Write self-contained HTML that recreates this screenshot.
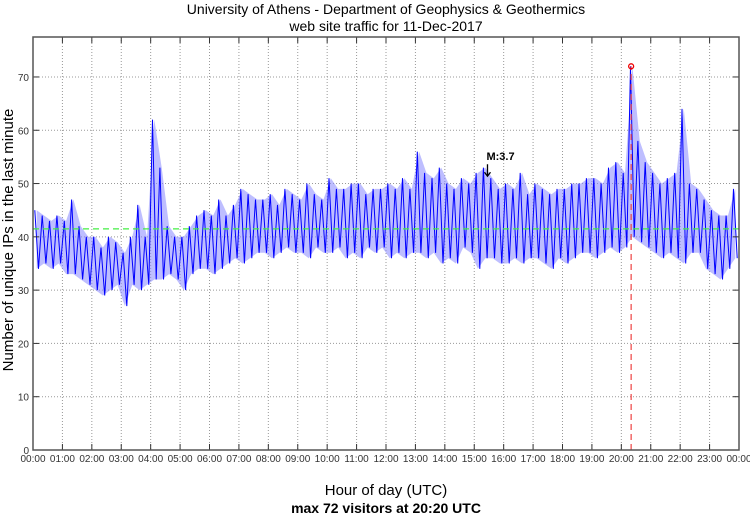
<!DOCTYPE html>
<html><head><meta charset="utf-8"><style>
body{margin:0;background:#fff;}
svg{display:block;font-family:"Liberation Sans",sans-serif;}
</style></head><body>
<svg id="chart" width="750" height="515" viewBox="0 0 750 515">
<text x="386" y="14" font-size="14" text-anchor="middle">University of Athens - Department of Geophysics &amp; Geothermics</text>
<text x="386" y="31" font-size="14" text-anchor="middle">web site traffic for 11-Dec-2017</text>
<text x="386" y="495" font-size="15" text-anchor="middle">Hour of day (UTC)</text>
<text x="386" y="513" font-size="14" text-anchor="middle" font-weight="bold">max 72 visitors at 20:20 UTC</text>
<text transform="translate(13,240) rotate(-90)" font-size="15" text-anchor="middle">Number of unique IPs in the last minute</text>
<g id="grid"></g><g id="series"></g><g id="axes"></g>
</svg>
<script>
const hourLabels=["00:00","01:00","02:00","03:00","04:00","05:00","06:00","07:00","08:00","09:00","10:00","11:00","12:00","13:00","14:00","15:00","16:00","17:00","18:00","19:00","20:00","21:00","22:00","23:00","00:00"];
const yTicks=[0,10,20,30,40,50,60,70];
const binHigh=[45,44,43,44,43,47,42,40,40,38,40,39,37,40,46,40,62,53,42,40,40,42,44,45,44,47,44,46,49,48,47,47,48,46,49,48,47,50,48,47,51,49,49,50,50,48,49,49,50,49,51,49,56,52,51,53,50,49,51,50,52,53,51,49,50,49,52,48,50,49,48,49,49,50,50,51,51,50,53,54,52,72,58,54,52,50,51,52,64,50,49,47,45,44,44,49];
const binLow=[34,35,34,35,33,33,32,31,30,29,30,31,27,31,30,31,32,32,33,32,30,33,34,34,33,34,35,36,35,36,37,37,36,37,38,37,37,36,38,37,37,38,36,37,36,38,37,38,36,37,36,37,37,36,37,35,36,35,38,37,34,36,36,35,35,36,35,36,36,35,34,36,35,36,37,37,36,37,38,37,38,40,39,38,37,36,37,36,35,37,37,34,33,32,34,36];
const meanValue=41.5;
const maxValue=72, maxMinute=20*60+20;
const markerLabel="M:3.7", markerMinute=15*60+27, markerValue=51;

const L=33,R=739,T=37,B=450,YMAX=77.5;
const xs=m=>L+(R-L)*m/1440;
const ys=v=>B-(B-T)*v/YMAX;
const NS="http://www.w3.org/2000/svg";
function mk(tag,attrs,parent){const e=document.createElementNS(NS,tag);for(const k in attrs)e.setAttribute(k,attrs[k]);parent.appendChild(e);return e;}
const grid=document.getElementById('grid'),ser=document.getElementById('series'),ax=document.getElementById('axes');

hourLabels.forEach((lab,i)=>{
  const x=xs(i*60);
  if(i>0&&i<24){const g=mk('line',{x1:x,x2:x,y1:T,y2:B,stroke:'#999','stroke-dasharray':'1,2','stroke-width':1},grid);
  
  }
  mk('line',{x1:x,x2:x,y1:B,y2:B-6,stroke:'#333'},ax);
  mk('line',{x1:x,x2:x,y1:T,y2:T+6,stroke:'#333'},ax);
  const t=mk('text',{x:x,y:B+12,'font-size':10,'text-anchor':'middle',fill:'#333'},ax);t.textContent=lab;
  
  
});
yTicks.forEach(v=>{
  const y=ys(v);
  if(v>0){const g=mk('line',{x1:L,x2:R,y1:y,y2:y,stroke:'#999','stroke-dasharray':'1,2'},grid);
  
  }
  mk('line',{x1:L,x2:L+6,y1:y,y2:y,stroke:'#333'},ax);
  mk('line',{x1:R,x2:R-6,y1:y,y2:y,stroke:'#333'},ax);
  const t=mk('text',{x:L-4,y:y+4,'font-size':10,'text-anchor':'end',fill:'#333'},ax);t.textContent=v;
  
  
});
const box=mk('rect',{x:L,y:T,width:R-L,height:B-T,fill:'none',stroke:'#555','stroke-width':1.5},ax);



let bandTop=[],bandBot=[];
binHigh.forEach((h,i)=>{
  bandTop.push(xs(i*15+7.5).toFixed(1)+','+ys(h).toFixed(1));
});
binLow.forEach((l,i)=>{
  bandBot.unshift(xs(i*15+7.5).toFixed(1)+','+ys(l).toFixed(1));
});
const band=mk('polygon',{points:bandTop.concat(bandBot).join(' '),fill:'#8888ff','fill-opacity':0.55,stroke:'none'},ser);



let pts=[];
binHigh.forEach((h,i)=>{
  pts.push(xs(i*15+3.75).toFixed(1)+','+ys(h).toFixed(1));
  pts.push(xs(i*15+11.25).toFixed(1)+','+ys(binLow[i]).toFixed(1));
});
const line=mk('polyline',{points:pts.join(' '),fill:'none',stroke:'#0000ff','stroke-width':1},ser);


const meanL=mk('line',{x1:L,x2:R,y1:ys(meanValue),y2:ys(meanValue),stroke:'#44ee44','stroke-dasharray':'6,4','stroke-width':1.3},ser);


const vl=mk('line',{x1:xs(maxMinute),x2:xs(maxMinute),y1:B,y2:ys(maxValue),stroke:'#ee4444','stroke-dasharray':'6,4','stroke-width':1.2},ser);


const mc=mk('circle',{cx:xs(maxMinute),cy:ys(maxValue),r:2.5,fill:'none',stroke:'#ee0000','stroke-width':1.3},ser);


const ar=mk('path',{d:`M${xs(markerMinute)},${ys(markerValue)-14} v12 m-3,-4 l3,4 l3,-4`,stroke:'#000',fill:'none','stroke-width':1.3},ser);


const mt=mk('text',{x:xs(markerMinute)-1,y:ys(markerValue)-18,'font-size':11,'font-weight':'bold'},ser);mt.textContent=markerLabel;


</script>
</body></html>
